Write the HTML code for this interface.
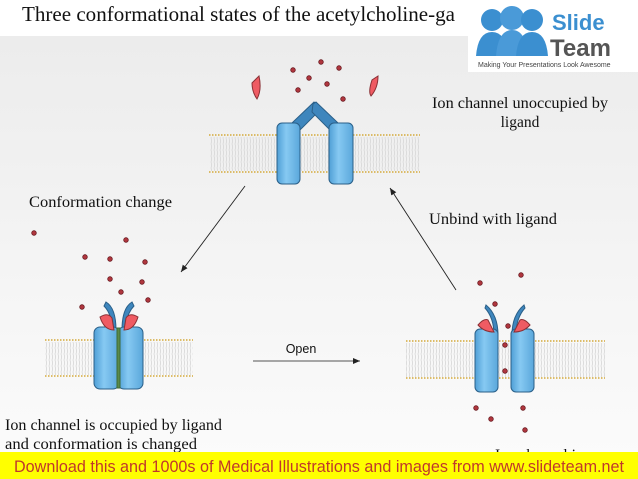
<!DOCTYPE html>
<html><head><meta charset="utf-8"><style>
html,body{margin:0;padding:0;}
body{width:638px;height:479px;overflow:hidden;position:relative;background:#fff;font-family:"Liberation Serif",serif;}
</style></head><body>
<svg width="638" height="479" viewBox="0 0 638 479" xmlns="http://www.w3.org/2000/svg" style="position:absolute;left:0;top:0">
<defs>
<linearGradient id="bg" x1="0" y1="0" x2="0" y2="1"><stop offset="0" stop-color="#ececec"/><stop offset="1" stop-color="#fbfbfb"/></linearGradient>
<linearGradient id="pil" x1="0" y1="0" x2="1" y2="0"><stop offset="0" stop-color="#4f9fd6"/><stop offset="0.4" stop-color="#86c9f2"/><stop offset="1" stop-color="#5aa7db"/></linearGradient>
<pattern id="lip" width="3" height="6" patternUnits="userSpaceOnUse"><path d="M1 0 Q2 3 1 6" stroke="#d6d6d6" stroke-width="0.8" fill="none"/></pattern>
<marker id="ar" markerWidth="8" markerHeight="8" refX="7" refY="4" orient="auto" markerUnits="userSpaceOnUse"><path d="M0 1 L7 4 L0 7 Z" fill="#222"/></marker>
</defs>
<rect x="0" y="36" width="638" height="420" fill="url(#bg)"/>
<text x="22" y="21" font-size="21" fill="#111" textLength="433" lengthAdjust="spacingAndGlyphs">Three conformational states of the acetylcholine-ga</text>
<g>
<rect x="468" y="0" width="170" height="72" fill="#fff"/>
<circle cx="492" cy="20" r="11" fill="#3b8fd0"/><circle cx="512" cy="18" r="12" fill="#4a9ad8"/><circle cx="532" cy="20" r="11" fill="#3b8fd0"/>
<path d="M476 56 Q478 32 492 32 Q506 32 508 56 Z" fill="#3b8fd0"/>
<path d="M496 56 Q498 30 512 30 Q526 30 528 56 Z" fill="#4a9ad8"/>
<path d="M516 56 Q518 32 532 32 Q546 32 548 56 Z" fill="#3b8fd0"/>
<text x="552" y="30" font-family="Liberation Sans,sans-serif" font-weight="bold" font-size="22" fill="#3b8fd0">Slide</text>
<text x="550" y="56" font-family="Liberation Sans,sans-serif" font-weight="bold" font-size="24" fill="#555">Team</text>
<text x="478" y="67" font-family="Liberation Sans,sans-serif" font-size="7" fill="#444">Making Your Presentations Look Awesome</text>
</g>
<g>
<rect x="209" y="137" width="211" height="34" fill="url(#lip)"/>
<line x1="209" y1="135" x2="420" y2="135" stroke="#d4a93a" stroke-width="1.5" stroke-dasharray="1.5 1.5"/>
<line x1="209" y1="172" x2="420" y2="172" stroke="#d4a93a" stroke-width="1.5" stroke-dasharray="1.5 1.5"/>
<rect x="45" y="342" width="148" height="33" fill="url(#lip)"/>
<line x1="45" y1="340" x2="193" y2="340" stroke="#d4a93a" stroke-width="1.5" stroke-dasharray="1.5 1.5"/>
<line x1="45" y1="376" x2="193" y2="376" stroke="#d4a93a" stroke-width="1.5" stroke-dasharray="1.5 1.5"/>
<rect x="406" y="343" width="199" height="34" fill="url(#lip)"/>
<line x1="406" y1="341" x2="605" y2="341" stroke="#d4a93a" stroke-width="1.5" stroke-dasharray="1.5 1.5"/>
<line x1="406" y1="378" x2="605" y2="378" stroke="#d4a93a" stroke-width="1.5" stroke-dasharray="1.5 1.5"/>
</g>
<g stroke="#2a5f88" stroke-width="1">
<path d="M286 126 L292 123 L314 102 L317 104 L318 112 L300 130 Z" fill="#3e86bd"/>
<path d="M344 126 L338 123 L316 102 L313 104 L312 112 L330 130 Z" fill="#3e86bd"/>
<rect x="277" y="123" width="23" height="61" rx="5" fill="url(#pil)"/>
<rect x="329" y="123" width="24" height="61" rx="5" fill="url(#pil)"/>
<path d="M252 83 L259 76 Q262 90 257 99 Q252 92 252 83Z" fill="#ef5b63" stroke="#8a3035"/>
<path d="M378 76 L372 80 Q368 92 371 96 Q378 88 378 76Z" fill="#ef5b63" stroke="#8a3035"/>
</g>
<g stroke="#2a5f88" stroke-width="1">
<path d="M106 302 Q116 308 116 330 L112 330 Q112 314 104 306 Z" fill="#3e86bd"/>
<path d="M132 302 Q122 308 122 330 L126 330 Q126 314 134 306 Z" fill="#3e86bd"/>
<rect x="94" y="327" width="25" height="62" rx="6" fill="url(#pil)"/>
<rect x="118" y="327" width="25" height="62" rx="6" fill="url(#pil)"/>
<rect x="117" y="328" width="3" height="60" fill="#5a8a4a" stroke="#3f6a35"/>
<path d="M100 317 Q108 312 112 318 L114 330 Q104 330 100 317Z" fill="#ef5b63" stroke="#8a3035"/>
<path d="M138 317 Q130 312 126 318 L124 330 Q134 330 138 317Z" fill="#ef5b63" stroke="#8a3035"/>
</g>
<g stroke="#2a5f88" stroke-width="1">
<path d="M486 305 Q498 315 498 335 L494 335 Q494 318 485 308 Z" fill="#3e86bd"/>
<path d="M524 305 Q512 315 512 335 L516 335 Q516 318 525 308 Z" fill="#3e86bd"/>
<rect x="475" y="329" width="23" height="63" rx="5" fill="url(#pil)"/>
<rect x="511" y="329" width="23" height="63" rx="5" fill="url(#pil)"/>
<path d="M478 325 Q484 318 488 320 L494 332 Q484 332 478 325Z" fill="#ef5b63" stroke="#8a3035"/>
<path d="M530 325 Q524 318 520 320 L514 332 Q524 332 530 325Z" fill="#ef5b63" stroke="#8a3035"/>
</g>
<g fill="#b0363e" stroke="#6a1c22" stroke-width="0.8">
<circle cx="293" cy="70" r="2.3"/><circle cx="321" cy="62" r="2.3"/><circle cx="339" cy="68" r="2.3"/><circle cx="309" cy="78" r="2.3"/><circle cx="327" cy="84" r="2.3"/><circle cx="298" cy="90" r="2.3"/><circle cx="343" cy="99" r="2.3"/>
<circle cx="34" cy="233" r="2.3"/><circle cx="126" cy="240" r="2.3"/><circle cx="85" cy="257" r="2.3"/><circle cx="110" cy="259" r="2.3"/><circle cx="145" cy="262" r="2.3"/><circle cx="110" cy="279" r="2.3"/><circle cx="142" cy="282" r="2.3"/><circle cx="121" cy="292" r="2.3"/><circle cx="148" cy="300" r="2.3"/><circle cx="82" cy="307" r="2.3"/>
<circle cx="480" cy="283" r="2.3"/><circle cx="521" cy="275" r="2.3"/><circle cx="495" cy="304" r="2.3"/><circle cx="508" cy="326" r="2.3"/><circle cx="505" cy="345" r="2.3"/><circle cx="505" cy="371" r="2.3"/><circle cx="476" cy="408" r="2.3"/><circle cx="491" cy="419" r="2.3"/><circle cx="523" cy="408" r="2.3"/><circle cx="525" cy="430" r="2.3"/>
</g>
<g stroke="#222" stroke-width="0.9" fill="none">
<line x1="245" y1="186" x2="181" y2="272" marker-end="url(#ar)"/>
<line x1="456" y1="290" x2="390" y2="188" marker-end="url(#ar)"/>
<line x1="253" y1="361" x2="360" y2="361" marker-end="url(#ar)" stroke="#555"/>
</g>
<g font-size="15.5" fill="#111">
<text x="520" y="108" text-anchor="middle" textLength="176" lengthAdjust="spacingAndGlyphs">Ion channel unoccupied by</text>
<text x="520" y="127" text-anchor="middle">ligand</text>
<text x="29" y="207" textLength="143" lengthAdjust="spacingAndGlyphs">Conformation change</text>
<text x="429" y="224" textLength="128" lengthAdjust="spacingAndGlyphs">Unbind with ligand</text>
<text x="5" y="430" textLength="217" lengthAdjust="spacingAndGlyphs">Ion channel is occupied by ligand</text>
<text x="5" y="449" textLength="192" lengthAdjust="spacingAndGlyphs">and conformation is changed</text>
<text x="495" y="460">Ion channel is</text>
</g>
<text x="301" y="353" text-anchor="middle" font-family="Liberation Sans,sans-serif" font-size="12.5" fill="#111">Open</text>
<rect x="0" y="452" width="638" height="27" fill="#ffff00"/>
<text x="319" y="472" text-anchor="middle" font-family="Liberation Sans,sans-serif" font-size="16.5" fill="#c0392b" textLength="610" lengthAdjust="spacingAndGlyphs">Download this and 1000s of Medical Illustrations and images from www.slideteam.net</text>
</svg>
</body></html>
